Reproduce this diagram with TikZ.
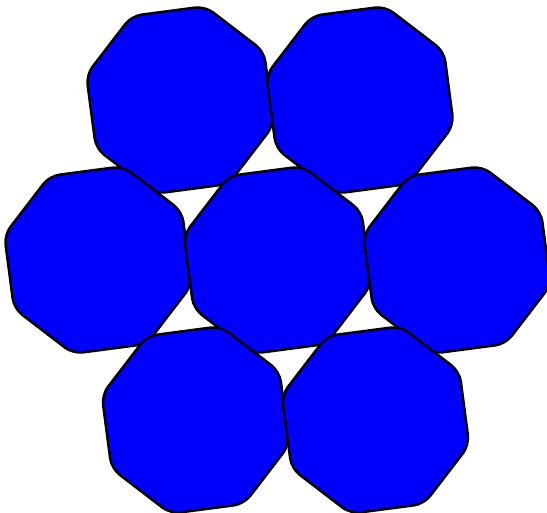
\documentclass[tikz,border=0pt]{standalone}
\usepackage{tikz}

\tikzset{
  octatile/.style={draw=black, fill=blue, line width=2.5pt, rounded corners=10pt}
}

\begin{document}
\begin{tikzpicture}[x=1pt, y=-1pt]
                \useasboundingbox (0,0) rectangle (547,513);

                % Seven rounded octagons, rows from top to bottom
                \foreach \cx/\cy in {180/100, 360/100, 98/260, 277.5/260, 457/260, 195.5/420, 375.5/420}
                {
                  \draw[octatile, shift={(\cx,\cy)}] (352.5:89.6)
                    \foreach \a in {15,60,...,330} { -- (\a:97) } -- cycle;
                }
            \end{tikzpicture}
\end{document}
